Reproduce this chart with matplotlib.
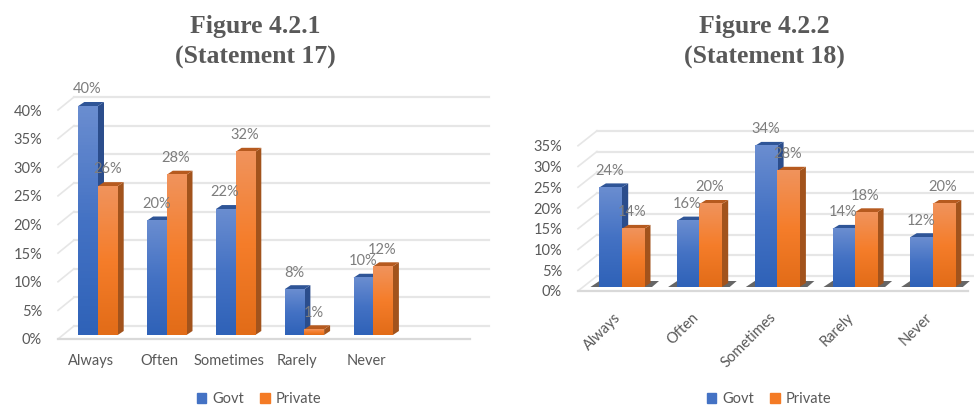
import numpy as np
import matplotlib
matplotlib.use("Agg")
import matplotlib.pyplot as plt
from matplotlib.colors import LinearSegmentedColormap
from matplotlib.patches import Patch, Polygon

W, H = 974, 405
plt.rcParams["font.family"] = ["Lato", "DejaVu Sans"]

categories = ["Always", "Often", "Sometimes", "Rarely", "Never"]
ticks = [0, 5, 10, 15, 20, 25, 30, 35, 40]
ticks_right = [0, 5, 10, 15, 20, 25, 30, 35]

govt_17 = [40, 20, 22, 8, 10]
private_17 = [26, 28, 32, 1, 12]
govt_18 = [24, 16, 34, 14, 12]
private_18 = [14, 20, 28, 18, 20]

TEXT = "#595959"
VALUE_TEXT = "#7d7d7d"
GRID = "#e6e6e6"
BLUE = "#4472c4"
ORANGE = "#f47b25"
blue_cm = LinearSegmentedColormap.from_list("b", ["#6a8dd0", "#4472c4", "#2f62b8"])
orange_cm = LinearSegmentedColormap.from_list("o", ["#f0935c", "#f57d2a", "#e26c18"])
ramp = np.linspace(0, 1, 64).reshape(-1, 1)


def draw_bar(ax, x0, x1, v, base, cmap, side, top, z, dx, dy):
    """Fake 3D column: gradient front face plus side and top polygons."""
    ax.add_patch(Polygon([(x1, base), (x1 + dx, base + dy), (x1 + dx, base + v + dy), (x1, base + v)],
                         fc=side, ec="none", zorder=z, clip_on=False))
    ax.add_patch(Polygon([(x0, base + v), (x1, base + v), (x1 + dx, base + v + dy), (x0 + dx, base + v + dy)],
                         fc=top, ec="none", zorder=z, clip_on=False))
    ax.bar(x0, v, bottom=base, width=x1 - x0, align="edge", color=cmap(0.5), zorder=z + 0.1, clip_on=False)
    ax.imshow(ramp, cmap=cmap, extent=[x0, x1, base, base + v], aspect="auto",
              zorder=z + 0.2, clip_on=False)


def draw_chart(rect, vals, title, title_x, legend_x, spacing, bar_w, center0,
               scale, bar_off, wall_off, yticks, shadow=False, rotate=False):
    left, right, base = rect
    top_px = base - yticks[-1] * scale
    ax = fig.add_axes([left / W, 1 - base / H, (right - left) / W, (base - top_px) / H])
    ax.patch.set_alpha(0)
    ax.set_autoscale_on(False)
    for s in ax.spines.values():
        s.set_visible(False)

    # one x unit is one category, one y unit is one percent
    xlim = ((left - center0) / spacing, (right - center0) / spacing)
    px, py = 1 / spacing, 1 / scale
    off_x, off_y = bar_off[0] * px, bar_off[1] * py
    wall_x, wall_y = wall_off[0] * px, wall_off[1] * py

    # back wall gridlines, with the short diagonals running to the front edge
    for t in yticks:
        ax.plot([xlim[0] + wall_x, xlim[1] + wall_x * 1.2], [t + wall_y] * 2,
                color=GRID, lw=1.6, zorder=1, clip_on=False)
        ax.plot([xlim[0], xlim[0] + wall_x], [t, t + wall_y],
                color=GRID, lw=1.2, zorder=1, clip_on=False)
    ax.plot(xlim, [0, 0], color="#d9d9d9", lw=1.6, zorder=1, clip_on=False)

    w = bar_w * px
    for i, (g, p) in enumerate(zip(*vals)):
        c = i + off_x
        z = 3 + i
        if shadow:
            ax.add_patch(Polygon([(c - w - 9 * px, off_y), (c + w + 8 * px, off_y),
                                  (c + w + 15 * px, off_y + 6 * py), (c - w, off_y + 6 * py)],
                                 fc="#666666", ec="none", zorder=2, clip_on=False))
        for x0, v, cm, side, top in [(c - w, g, blue_cm, "#2b4d8c", "#2f5597"),
                                     (c, p, orange_cm, "#a2531c", "#b65a1f")]:
            draw_bar(ax, x0, x0 + w, v, off_y, cm, side, top, z, bar_off[2] * px, bar_off[3] * py)
            z += 0.5
            ax.annotate(f"{v}%", (x0 + w / 2, v + off_y), xytext=(-0.5, 12), textcoords="offset points",
                        ha="center", va="center", fontsize=10.5, color=VALUE_TEXT, zorder=30,
                        annotation_clip=False)

    ax.set_xlim(xlim)
    ax.set_ylim(0, yticks[-1])
    ax.set_yticks(yticks, [f"{t}%" for t in yticks])
    ax.set_xticks(range(len(categories)))
    ax.tick_params(axis="y", length=0, pad=11.5, labelsize=10.5, labelcolor=TEXT)
    if rotate:
        ax.set_xticklabels(categories, rotation=45, ha="right", rotation_mode="anchor")
        ax.tick_params(axis="x", length=0, pad=14, labelsize=10.5, labelcolor=TEXT)
    else:
        ax.set_xticklabels(categories)
        ax.tick_params(axis="x", length=0, pad=10.5, labelsize=10.5, labelcolor=TEXT)

    fig.text(title_x / W, 1 - 42 / H, title, ha="center", va="center", family="Liberation Serif",
             fontweight="bold", fontsize=18.5, color=TEXT, linespacing=1.4)
    fig.legend(handles=[Patch(color=BLUE, label="Govt"), Patch(color=ORANGE, label="Private")],
               loc="center", bbox_to_anchor=(legend_x / W, 1 - 399 / H), ncol=2, frameon=False,
               fontsize=10.5, labelcolor=TEXT, handlelength=0.65, handleheight=0.65,
               handletextpad=0.4, columnspacing=1.1)


fig = plt.figure(figsize=(W / 100, H / 100), dpi=100)

draw_chart((58, 470, 339), (govt_17, private_17), "Figure 4.2.1\n(Statement 17)", 255, 259,
           68.8, 19.7, 91, 5.725, (7, 4, 6, 4), (16, 13), ticks)
draw_chart((578, 968, 291), (govt_18, private_18), "Figure 4.2.2\n(Statement 18)", 764, 769,
           77.7, 22.3, 613.7, 4.15, (8, 4, 6.5, 4), (19, 15), ticks_right, shadow=True, rotate=True)

fig.savefig("out.png", dpi=100)
